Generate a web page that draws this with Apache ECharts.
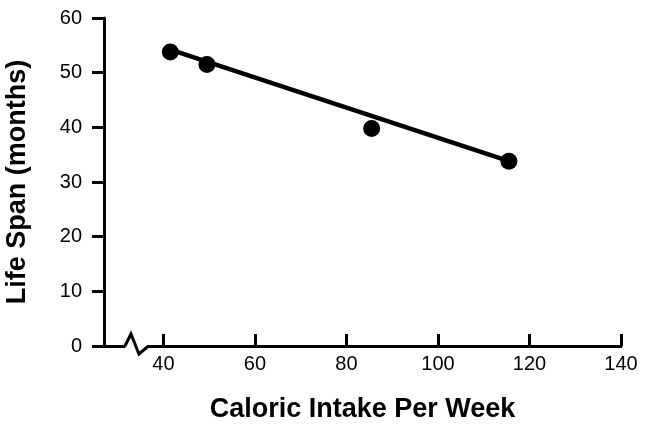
<!DOCTYPE html>
<html><head><meta charset="utf-8">
<script src="https://cdn.jsdelivr.net/npm/echarts@6/dist/echarts.min.js"></script>
<style>html,body{margin:0;padding:0;background:#fff}#c{width:645px;height:426px}</style>
</head><body><div id="c"></div>
<script>
const caloricIntake = [41.5, 49.5, 85.5, 115.5];
const lifeSpan = [53.8, 51.5, 39.8, 33.8];
const fitLine = [[41.5, 54.2], [115.5, 33.8]];
const xTicks = [40, 60, 80, 100, 120, 140];
const yTicks = [0, 10, 20, 30, 40, 50, 60];
const xTitle = 'Caloric Intake Per Week';
const yTitle = 'Life Span (months)';

const chart = echarts.init(document.getElementById('c'));
const font = '"Liberation Sans", Arial, sans-serif';
chart.setOption({
  animation: false,
  grid: {left: 104, right: 24, top: 18, bottom: 80, outerBoundsMode: 'none', containLabel: false},
  xAxis: {
    type: 'value', min: 27, max: 140,
    splitLine: {show: false},
    axisLine: {lineStyle: {color: '#000', width: 3}},
    axisTick: {inside: true, length: 12, lineStyle: {color: '#000', width: 3}, customValues: xTicks},
    axisLabel: {color: '#000', fontSize: 20, fontFamily: font, margin: 8, customValues: xTicks},
    name: xTitle, nameLocation: 'middle', nameGap: 50,
    nameTextStyle: {color: '#000', fontSize: 27, fontWeight: 'bold', fontFamily: font}
  },
  yAxis: {
    type: 'value', min: 0, max: 60, interval: 10,
    splitLine: {show: false},
    axisLine: {lineStyle: {color: '#000', width: 3}},
    axisTick: {length: 12, lineStyle: {color: '#000', width: 3}},
    axisLabel: {color: '#000', fontSize: 20, fontFamily: font, margin: 22},
    name: yTitle, nameLocation: 'middle', nameGap: 73,
    nameTextStyle: {color: '#000', fontSize: 27, fontWeight: 'bold', fontFamily: font}
  },
  series: [
    {type: 'line', data: fitLine, symbol: 'none', lineStyle: {color: '#000', width: 4.5}, z: 2},
    {type: 'scatter', data: caloricIntake.map((x, i) => [x, lifeSpan[i]]), symbolSize: 17,
     itemStyle: {color: '#000', opacity: 1}, z: 3}
  ]
});

// axis break zigzag on x axis
const y0 = chart.convertToPixel({gridIndex: 0}, [30, 0])[1];
const a = chart.convertToPixel({gridIndex: 0}, [31.8, 0])[0];
const b = chart.convertToPixel({gridIndex: 0}, [36.5, 0])[0];
chart.setOption({
  graphic: [
    {type: 'rect', shape: {x: a - 0.5, y: y0 - 3, width: b - a + 1, height: 6}, style: {fill: '#fff'}, z: 100},
    {type: 'polyline', shape: {points: [[a - 1, y0], [a + 5, y0 - 12], [a + 13, y0 + 8], [b + 1, y0]]},
     style: {stroke: '#000', lineWidth: 3, fill: null}, z: 101}
  ]
});
</script></body></html>
